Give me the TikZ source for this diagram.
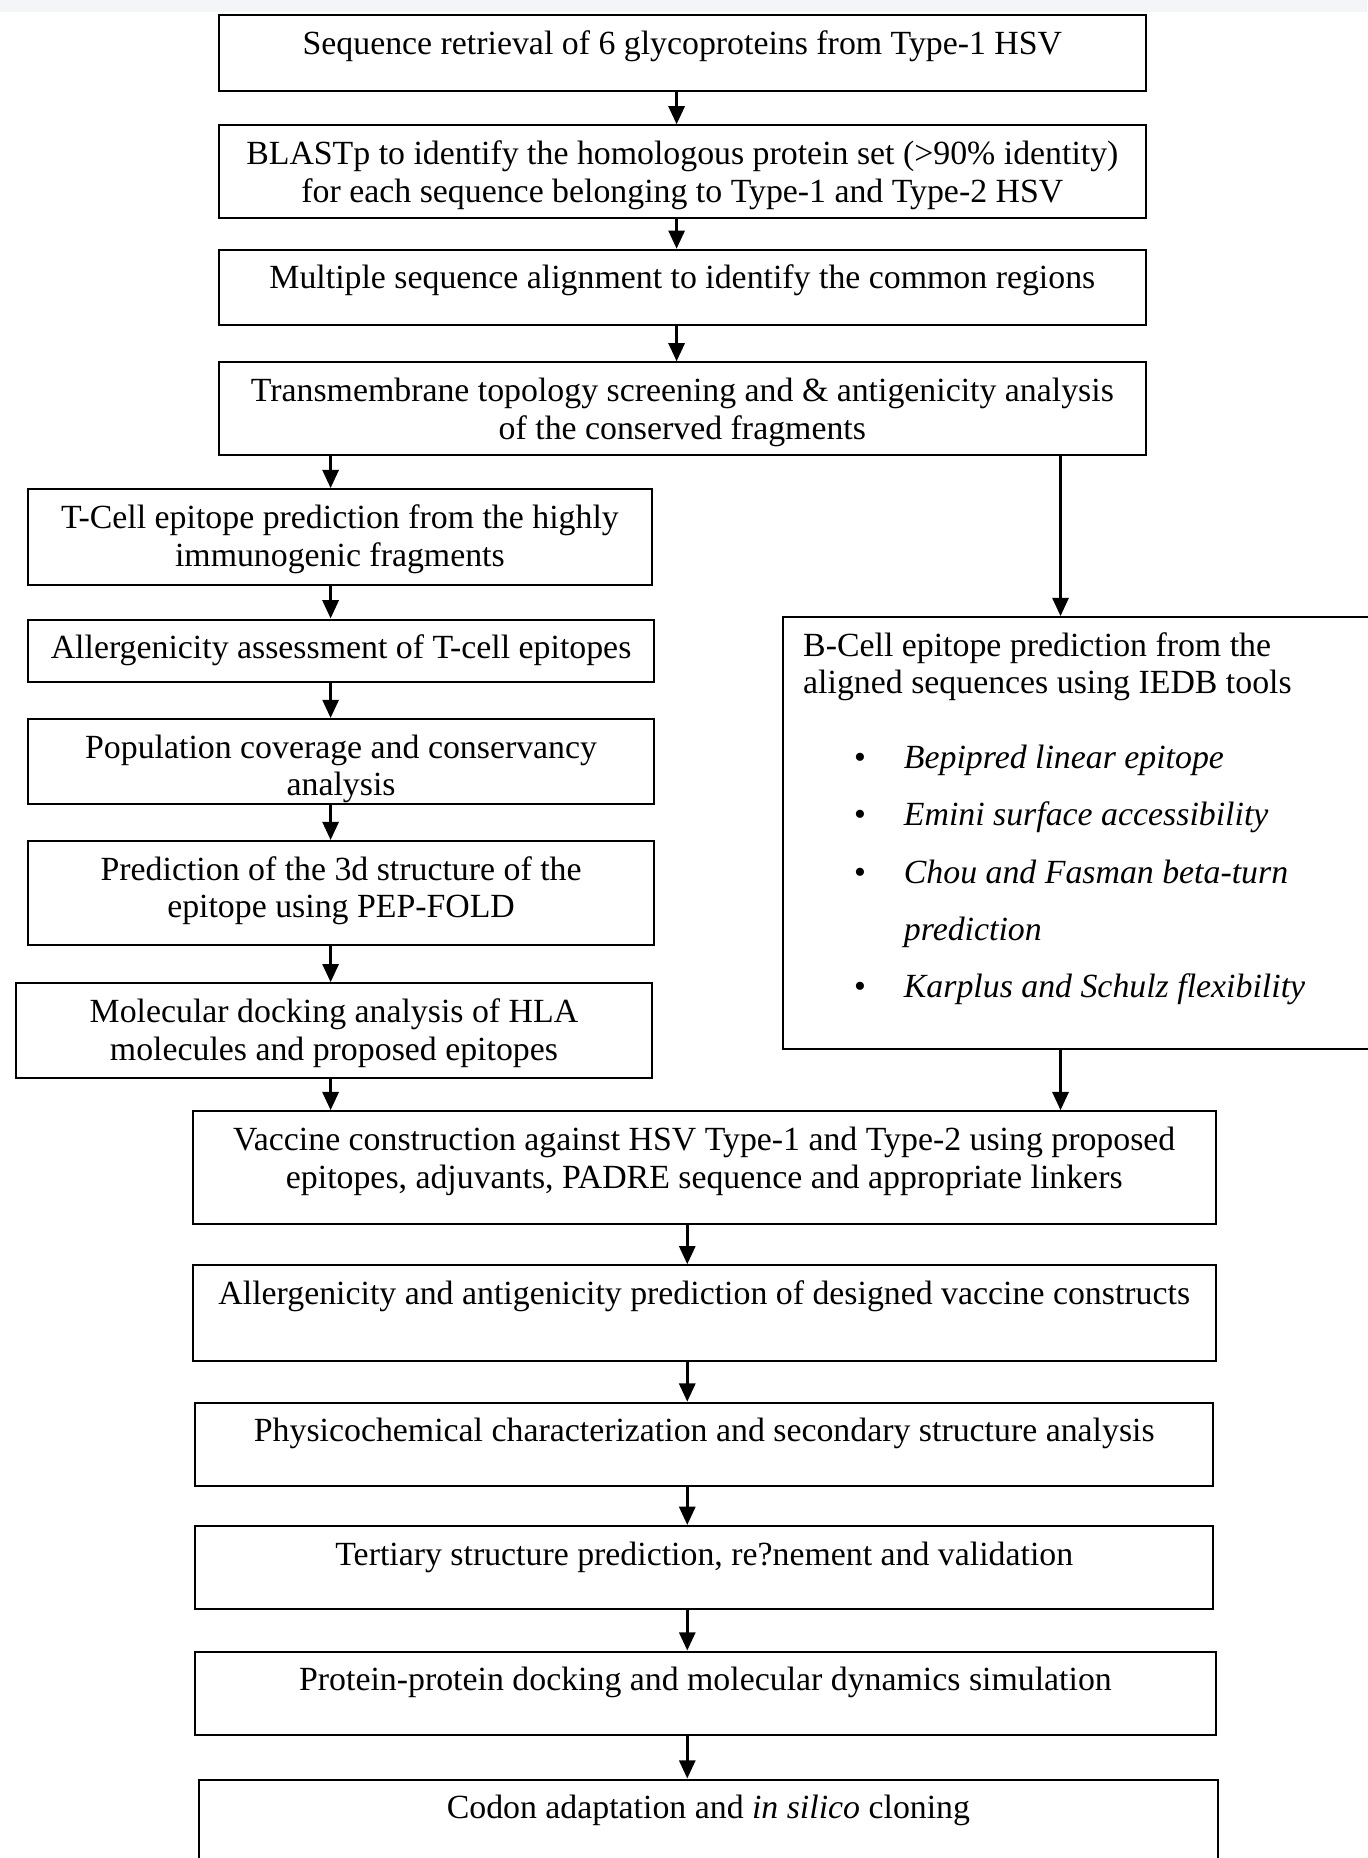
\documentclass[tikz,border=0pt]{standalone}
\usepackage{fontspec}
\setmainfont{Liberation Serif}
\usetikzlibrary{arrows.meta}
\newdimen\pxl \pxl=0.025cm
\definecolor{topband}{RGB}{244,245,248}
% box text: height, width (in px), lines
\newcommand{\boxtxt}[3]{\parbox[c][#1\pxl][t]{#2\pxl}{\centering\vspace*{7.5pt}\strut #3}}
\tikzset{
  stepbox/.style={draw, line width=1.2pt, anchor=north west, inner sep=0pt,
    font=\fontsize{20.3pt}{22.7pt}\selectfont},
  arr/.style={line width=2.1pt, -{Triangle[length=11pt,width=9.5pt]}},
}
\begin{document}
\begin{tikzpicture}[x=\pxl, y=-\pxl]
  \useasboundingbox (0,0) rectangle (1154,1568);
  \fill [topband] (0,0) rectangle (1154,10);
  % column positions of the arrows
  \coordinate (cx) at (571,0);
  \coordinate (tx) at (279,0);
  \coordinate (bx) at (895,0);
  \coordinate (vx) at (580,0);

  \node [stepbox] (retr) at (184,12) {\boxtxt{64}{782}{Sequence retrieval of 6 glycoproteins from Type-1 HSV}};
  \node [stepbox] (blast) at (184,105) {\boxtxt{78}{782}{BLASTp to identify the homologous protein set (>90\% identity)\\ for each sequence belonging to Type-1 and Type-2 HSV}};
  \node [stepbox] (msa) at (184,210) {\boxtxt{63}{782}{Multiple sequence alignment to identify the common regions}};
  \node [stepbox] (tmem) at (184,305) {\boxtxt{78}{782}{Transmembrane topology screening and \& antigenicity analysis\\ of the conserved fragments}};

  \node [stepbox] (tcell) at (23,412) {\boxtxt{81}{526}{T-Cell epitope prediction from the highly\\ immunogenic fragments}};
  \node [stepbox] (allerg) at (23,522) {\boxtxt{53}{528}{Allergenicity assessment of T-cell epitopes}};
  \node [stepbox] (popcov) at (23,606) {\boxtxt{72}{528}{Population coverage and conservancy\\ analysis}};
  \node [stepbox] (pepfold) at (23,709) {\boxtxt{88}{528}{Prediction of the 3d structure of the\\ epitope using PEP-FOLD}};
  \node [stepbox] (dock) at (13,829) {\boxtxt{80}{536}{Molecular docking analysis of HLA\\ molecules and proposed epitopes}};

  \node [stepbox] (bcell) at (660,520) {\parbox[c][364\pxl][t]{520\pxl}{\raggedright\leftskip=17\pxl
    \vspace*{7.5pt}\strut B-Cell epitope prediction from the\\
    aligned sequences using IEDB tools\\[22pt]
    \hspace*{43\pxl}\makebox[42\pxl][l]{\textbullet}\textit{Bepipred linear epitope}\\[11.7pt]
    \hspace*{43\pxl}\makebox[42\pxl][l]{\textbullet}\textit{Emini surface accessibility}\\[11.7pt]
    \hspace*{43\pxl}\makebox[42\pxl][l]{\textbullet}\textit{Chou and Fasman beta-turn}\\[11.7pt]
    \hspace*{85\pxl}\textit{prediction}\\[11.7pt]
    \hspace*{43\pxl}\makebox[42\pxl][l]{\textbullet}\textit{Karplus and Schulz flexibility}}};

  \node [stepbox] (vacc) at (162,937) {\boxtxt{95}{863}{Vaccine construction against HSV Type-1 and Type-2 using proposed\\ epitopes, adjuvants, PADRE sequence and appropriate linkers}};
  \node [stepbox] (antig) at (162,1067) {\boxtxt{81}{863}{Allergenicity and antigenicity prediction of designed vaccine constructs}};
  \node [stepbox] (physc) at (164,1183) {\boxtxt{70}{859}{Physicochemical characterization and secondary structure analysis}};
  \node [stepbox] (tert) at (164,1287) {\boxtxt{70}{859}{Tertiary structure prediction, re?nement and validation}};
  \node [stepbox] (ppdock) at (164,1393) {\boxtxt{70}{861}{Protein-protein docking and molecular dynamics simulation}};
  \node [stepbox] (codon) at (167,1501) {\boxtxt{100}{860}{Codon adaptation and \textit{in silico} cloning}};

  \draw [arr] (retr.south -| cx) -- (blast.north -| cx);
  \draw [arr] (blast.south -| cx) -- (msa.north -| cx);
  \draw [arr] (msa.south -| cx) -- (tmem.north -| cx);
  \draw [arr] (tmem.south -| tx) -- (tcell.north -| tx);
  \draw [arr] (tmem.south -| bx) -- (bcell.north -| bx);
  \draw [arr] (tcell.south -| tx) -- (allerg.north -| tx);
  \draw [arr] (allerg.south -| tx) -- (popcov.north -| tx);
  \draw [arr] (popcov.south -| tx) -- (pepfold.north -| tx);
  \draw [arr] (pepfold.south -| tx) -- (dock.north -| tx);
  \draw [arr] (dock.south -| tx) -- (vacc.north -| tx);
  \draw [arr] (bcell.south -| bx) -- (vacc.north -| bx);
  \draw [arr] (vacc.south -| vx) -- (antig.north -| vx);
  \draw [arr] (antig.south -| vx) -- (physc.north -| vx);
  \draw [arr] (physc.south -| vx) -- (tert.north -| vx);
  \draw [arr] (tert.south -| vx) -- (ppdock.north -| vx);
  \draw [arr] (ppdock.south -| vx) -- (codon.north -| vx);
\end{tikzpicture}
\end{document}
